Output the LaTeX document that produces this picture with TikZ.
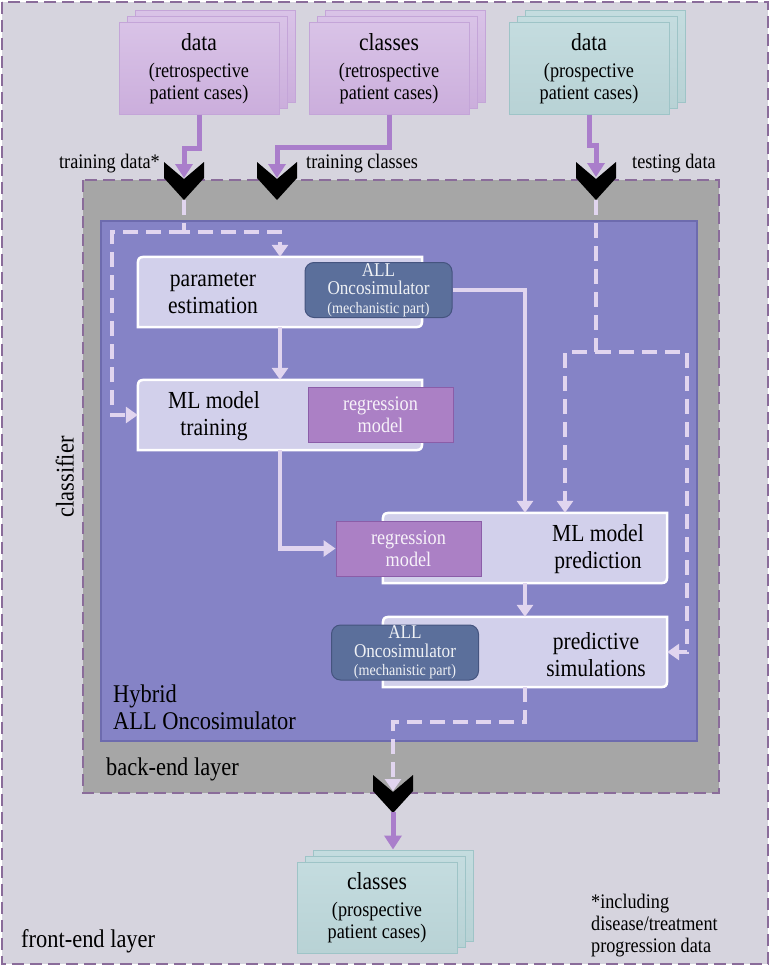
\documentclass[tikz,border=0pt]{standalone}
\usepackage{fontspec}
\setmainfont{Liberation Serif}[FakeStretch=0.88]
\usetikzlibrary{arrows.meta,calc}

\definecolor{frontbg}{HTML}{D6D4DE}
\definecolor{layerline}{HTML}{8A6C9A}
\definecolor{backbg}{HTML}{A6A6A6}
\definecolor{hybridbg}{HTML}{8583C6}
\definecolor{hybridline}{HTML}{6D6BAE}
\definecolor{procfill}{HTML}{D2D0EB}
\definecolor{simfill}{HTML}{5B6F9B}
\definecolor{simline}{HTML}{45547F}
\definecolor{regfill}{HTML}{AB80C5}
\definecolor{regline}{HTML}{8B5DA8}
\definecolor{retrotop}{HTML}{D9C3E7}
\definecolor{retrofill}{HTML}{CBAEDC}
\definecolor{retroline}{HTML}{C4A5D8}
\definecolor{prostop}{HTML}{C4DCDF}
\definecolor{prosfill}{HTML}{B8D2D5}
\definecolor{prosline}{HTML}{9EC4C7}
\definecolor{inarrow}{HTML}{AA7ECB}
\definecolor{flowarrow}{HTML}{E1D5EF}

\newcommand{\fs}[1]{\fontsize{#1}{#1}\selectfont}

% two copies behind a stack node, placed from its centre
\newcommand{\stacklayers}[2]{%
  \draw[#2] ($(#1)+(-64,33.5)$) rectangle ($(#1)+(96,-57.5)$);
  \draw[#2] ($(#1)+(-72,39.5)$) rectangle ($(#1)+(88,-51.5)$);}

% black chevron, top centre given
\newcommand{\chevron}[1]{%
  \fill[black] ($(#1)+(-20,0)$) -- ($(#1)+(0,17)$) -- ($(#1)+(20,0)$)
    -- ($(#1)+(20,16)$) -- ($(#1)+(0,38)$) -- ($(#1)+(-20,16)$) -- cycle;}

% process frame, rounded at top left and bottom right
\newcommand{\procframe}[1]{%
  \filldraw[fill=procfill, draw=white, line width=2.5pt]
    (#1.south west) -- ($(#1.north west)+(0,12)$) .. controls (#1.north west) .. ($(#1.north west)+(12,0)$)
    -- (#1.north east) -- ($(#1.south east)+(0,-12)$) .. controls (#1.south east) .. ($(#1.south east)+(-12,0)$)
    -- cycle;}

\tikzset{
  stackbox/.style={minimum width=160pt, minimum height=91pt, inner sep=0pt, align=center,
    line width=1pt, font=\fontsize{20.7}{22}\selectfont},
  retro/.style={stackbox, top color=retrotop, bottom color=retrofill, draw=retroline},
  pros/.style={stackbox, top color=prostop, bottom color=prosfill, draw=prosline},
  procbox/.style={minimum width=284pt, minimum height=70pt, inner sep=0pt},
  proctext/.style={align=center, inner sep=0pt, font=\fontsize{24.5}{27}\selectfont},
  simbox/.style={fill=simfill, draw=simline, line width=1pt, rounded corners=9pt,
    minimum width=147pt, minimum height=55pt, inner sep=0pt, align=center,
    text=white!90!simfill, font=\fontsize{19.5}{18.5}\selectfont},
  regbox/.style={fill=regfill, draw=regline, line width=1pt, minimum width=145pt,
    minimum height=55pt, inner sep=0pt, align=center, text=white!90!regfill,
    font=\fontsize{20.7}{22}\selectfont},
  feed/.style={inarrow, line width=5pt, -{Triangle[width=17pt,length=14pt]}},
  flow/.style={flowarrow, line width=4.5pt, -{Triangle[width=16pt,length=12pt]}},
  dflow/.style={flow, dash pattern=on 15pt off 8pt},
  tagtext/.style={font=\fontsize{20.7}{22}\selectfont, inner sep=0pt},
  layertext/.style={font=\fontsize{25.5}{27}\selectfont, inner sep=0pt, align=left},
  layerframe/.style={draw=layerline, line width=2pt, dash pattern=on 12pt off 6pt},
}

\begin{document}
\begin{tikzpicture}[x=1pt, y=-1pt]
  \useasboundingbox (0,0) rectangle (770,966);

  % Layers
  \filldraw[layerframe, fill=frontbg] (2,2) rectangle (768,964);
  \filldraw[layerframe, fill=backbg] (83,180) rectangle (719,793);
  \filldraw[fill=hybridbg, draw=hybridline, line width=1.5pt] (101,221) rectangle (697,741);

  \node[layertext, anchor=base west] (back-l) at (106,775) {back-end layer};
  \node[layertext, anchor=west] (hyb-l) at (113,707) {Hybrid\\ALL Oncosimulator};
  \node[layertext, anchor=base west] (front-l) at (21,947) {front-end layer};
  \node[layertext, rotate=90, anchor=south] (cls-l) at (74,477) {classifier};
  \node[tagtext, align=left, anchor=west] (note) at (591,926) {*including\\disease/treatment\\progression data};

  % Process boxes
  \node[procbox] (pe) at (280,292) {};
  \node[procbox] (mt) at (280,415) {};
  \node[procbox] (mp) at (525,548) {};
  \node[procbox] (ps) at (525,652) {};
  \procframe{pe}
  \procframe{mt}
  \procframe{mp}
  \procframe{ps}
  \node[proctext] (pe-t) at (213,293) {parameter\\estimation};
  \node[proctext] (mt-t) at (214,416) {ML model\\training};
  \node[proctext] (mp-t) at (598,549) {ML model\\prediction};
  \node[proctext] (ps-t) at (596,655) {predictive\\simulations};
  \node[simbox] (o1) at (378.5,290) {ALL\\Oncosimulator\\{\fs{16}(mechanistic part)}};
  \node[regbox] (r1) at (380.5,414.5) {regression\\model};
  \node[regbox] (r2) at (408.5,548.5) {regression\\model};
  \node[simbox] (o2) at (405,652.5) {ALL\\Oncosimulator\\{\fs{16}(mechanistic part)}};

  % Patient case stacks
  \coordinate (d1c) at (199,68.5);
  \coordinate (d2c) at (389,68.5);
  \coordinate (d3c) at (589,68.5);
  \coordinate (c2c) at (377,907.5);
  \stacklayers{d1c}{retro}
  \stacklayers{d2c}{retro}
  \stacklayers{d3c}{pros}
  \stacklayers{c2c}{pros}
  \node[retro] (d1) at (d1c) {{\fs{24.5}data}\\[5pt](retrospective\\patient cases)};
  \node[retro] (d2) at (d2c) {{\fs{24.5}classes}\\[5pt](retrospective\\patient cases)};
  \node[pros] (d3) at (d3c) {{\fs{24.5}data}\\[5pt](prospective\\patient cases)};
  \node[pros] (c2) at (c2c) {{\fs{24.5}classes}\\[5pt](prospective\\patient cases)};

  \node[tagtext, anchor=base east] (td-l) at (160,168) {training data*};
  \node[tagtext, anchor=base west] (tc-l) at (306,168) {training classes};
  \node[tagtext, anchor=base west] (te-l) at (632,168) {testing data};

  % Chevrons
  \coordinate (ch1) at (184,162);
  \coordinate (ch2) at (277,162);
  \coordinate (ch3) at (596,162);
  \coordinate (ch4) at (393,775);
  \chevron{ch1}
  \chevron{ch2}
  \chevron{ch3}
  \chevron{ch4}

  % Inputs and output
  \coordinate (b1) at (184,148);
  \coordinate (b2) at (277,147);
  \coordinate (b3) at (596,145);
  \draw[feed] (d1.south) |- (b1) -- ($(ch1)+(0,16)$);
  \draw[feed] (d2.south) |- (b2) -- ($(ch2)+(0,16)$);
  \draw[feed] (d3.south) |- (b3) -- ($(ch3)+(0,15)$);
  \draw[feed] ($(ch4)+(0,37)$) -- ($(c2.north)+(16,-12)$);

  % Inner flow
  \draw[flow] (pe.south) -- (mt.north);
  \draw[flow] (o1.east) -| (mp.north);
  \draw[flow] (mt.south) |- (r2.west);
  \draw[flow] (mp.south) -- (ps.north);

  \coordinate (j1) at (184,232);
  \coordinate (j1w) at (112,232);
  \coordinate (j3) at (596,352);
  \coordinate (j3e) at (687,352);
  \coordinate (j4) at (393,722);
  \draw[dflow] ($(ch1)+(0,38)$) -- (j1) -| (pe.north);
  \draw[dflow] (j1) -- (j1w) |- (mt.west);
  \draw[dflow] ($(ch3)+(0,38)$) -- (j3) -| ($(mp.north)+(40,0)$);
  \draw[dflow] (j3) -- (j3e) |- (ps.east);
  \draw[dflow] (ps.south) |- (j4) -- ($(ch4)+(0,16)$);
\end{tikzpicture}
\end{document}
